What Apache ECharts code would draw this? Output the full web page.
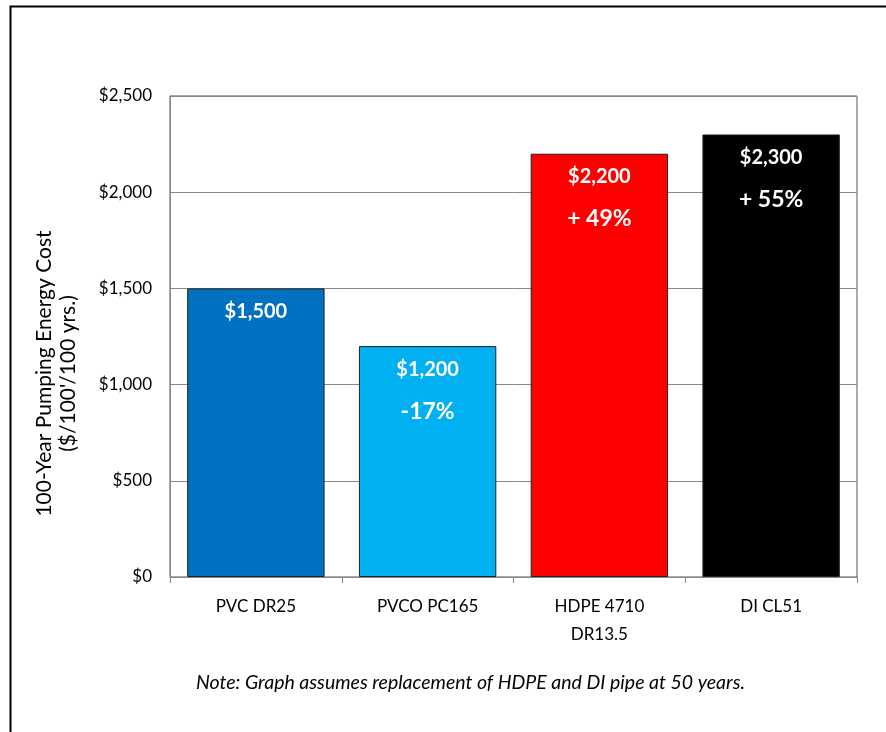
<!DOCTYPE html>
<html><head><meta charset="utf-8">
<script src="https://cdn.jsdelivr.net/npm/echarts@6/dist/echarts.min.js"></script>
<style>html,body{margin:0;padding:0;background:#fff}#c{width:886px;height:732px}</style>
</head><body><div id="c"></div>
<script>
const categories = ['PVC DR25', 'PVCO PC165', 'HDPE 4710\nDR13.5', 'DI CL51'];
const values = [1500, 1200, 2200, 2300];
const valueLabels = ['$1,500', '$1,200', '$2,200', '$2,300'];
const pctLabels = ['', '-17%', '+ 49%', '+ 55%'];
const barColors = ['#0070C0', '#00B0F0', '#FF0000', '#000000'];
const yTicks = {min: 0, max: 2500, interval: 500};
const note = 'Note: Graph assumes replacement of HDPE and DI pipe at 50 years.';
const yName = "100-Year Pumping Energy Cost\n($/100'/100 yrs.)";

const FONT = 'Lato';
const chart = echarts.init(document.getElementById('c'), null, {renderer: 'canvas'});
chart.setOption({
  animation: false,
  backgroundColor: '#fff',
  textStyle: {fontFamily: FONT},
  graphic: [
    {type: 'rect', left: 8, top: 4, shape: {width: 900, height: 800},
     style: {fill: 'none', stroke: '#000', lineWidth: 2}, z: 100},
    {type: 'text', left: 196, top: 673,
     style: {text: note, font: 'italic 19.5px ' + FONT, fill: '#000'}}
  ],
  grid: {left: 170, top: 96, right: 29, bottom: 155, show: true, borderColor: '#555', borderWidth: 1},
  xAxis: {
    type: 'category', data: categories,
    axisLine: {lineStyle: {color: '#888'}},
    axisTick: {show: true, length: 6, lineStyle: {color: '#888'}},
    axisLabel: {color: '#000', fontSize: 17, fontFamily: FONT, margin: 16, lineHeight: 28}
  },
  yAxis: {
    type: 'value', min: yTicks.min, max: yTicks.max, interval: yTicks.interval,
    name: yName, nameLocation: 'middle', nameGap: 90,
    nameTextStyle: {fontSize: 21, fontFamily: FONT, color: '#000', lineHeight: 24, padding: [0, 74, 0, 0]},
    axisLine: {show: true, lineStyle: {color: '#888'}},
    axisTick: {show: false},
    splitLine: {lineStyle: {color: '#888'}},
    axisLabel: {color: '#000', fontSize: 17, fontFamily: FONT, margin: 18,
      formatter: v => '$' + v.toLocaleString('en-US')}
  },
  series: [{
    type: 'bar', barCategoryGap: '20%',
    data: values.map((v, i) => ({value: v, itemStyle: {color: barColors[i]}})),
    itemStyle: {borderColor: '#222', borderWidth: 1},
    label: {
      show: true, position: 'insideTop', distance: 5,
      formatter: p => pctLabels[p.dataIndex] ? '{a|' + valueLabels[p.dataIndex] + '}\n{b|' + pctLabels[p.dataIndex] + '}' : '{a|' + valueLabels[p.dataIndex] + '}',
      rich: {
        a: {color: '#fff', fontSize: 20, fontWeight: 'bold', fontFamily: FONT, lineHeight: 36},
        b: {color: '#fff', fontSize: 23, fontWeight: 'bold', fontFamily: FONT, lineHeight: 48}
      }
    }
  }]
});
</script></body></html>
